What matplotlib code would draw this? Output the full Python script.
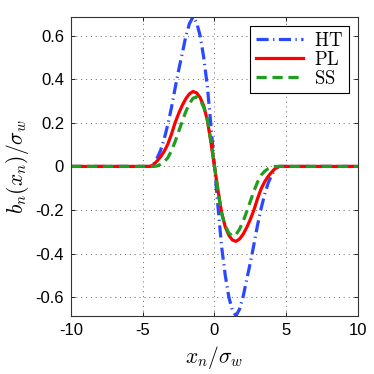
import matplotlib
matplotlib.use('Agg')
import matplotlib.pyplot as plt

plt.rcParams['font.family'] = ['Liberation Sans', 'DejaVu Sans']
plt.rcParams['mathtext.fontset'] = 'cm'

# values (x_n / sigma_w)
x = [-10, -4.5, -4.25, -4.0, -3.75, -3.5, -3.25, -3.0, -2.75, -2.5, -2.25, -2.0,
     -1.75, -1.5, -1.25, -1.0, -0.75, -0.5, -0.25, 0.0,
     0.25, 0.5, 0.75, 1.0, 1.25, 1.5, 1.75, 2.0, 2.25, 2.5, 2.75, 3.0,
     3.25, 3.5, 3.75, 4.0, 4.25, 4.5, 10]

ht = [0.0, 0.0, 0.010, 0.038, 0.075, 0.128, 0.193, 0.270, 0.358, 0.442, 0.518, 0.597,
      0.655, 0.686, 0.662, 0.600, 0.500, 0.370, 0.190, 0.0,
      -0.190, -0.370, -0.500, -0.600, -0.662, -0.686, -0.655, -0.597, -0.518, -0.442, -0.358, -0.270,
      -0.193, -0.128, -0.075, -0.038, -0.010, 0.0, 0.0]

pl = [0.0, 0.0, 0.008, 0.025, 0.045, 0.070, 0.103, 0.148, 0.200, 0.243, 0.280, 0.311,
      0.333, 0.344, 0.338, 0.316, 0.278, 0.212, 0.112, 0.0,
      -0.112, -0.212, -0.278, -0.316, -0.338, -0.344, -0.333, -0.311, -0.280, -0.243, -0.200, -0.148,
      -0.103, -0.070, -0.045, -0.025, -0.008, 0.0, 0.0]

ss = [0.0, 0.0, 0.0, 0.002, 0.010, 0.022, 0.040, 0.072, 0.113, 0.160, 0.207, 0.252,
      0.288, 0.313, 0.320, 0.306, 0.272, 0.218, 0.118, 0.0,
      -0.118, -0.218, -0.272, -0.306, -0.320, -0.313, -0.288, -0.252, -0.207, -0.160, -0.113, -0.072,
      -0.040, -0.022, -0.010, -0.002, 0.0, 0.0, 0.0]

fig = plt.figure(figsize=(3.74, 3.74), dpi=100)
ax = fig.add_axes([0.19, 0.155, 0.767, 0.80])

ax.plot(x, ht, color='#2a48ff', lw=2.3, dashes=(3.8, 1.4, 0.4, 1.4), label=r'$\mathrm{HT}$')
ax.plot(x, pl, color='#ff0000', lw=2.3, label=r'$\mathrm{PL}$')
ax.plot(x, ss, color='#1f9f1f', lw=2.3, dashes=(3.2, 1.8), label=r'$\mathrm{SS}$')

ax.set_xlim(-10, 10)
ax.set_ylim(-0.687, 0.687)
ax.set_xticks([-10, -5, 0, 5, 10])
ax.set_yticks([-0.6, -0.4, -0.2, 0, 0.2, 0.4, 0.6])
ax.set_xticklabels(['-10', '-5', '0', '5', '10'])
ax.set_yticklabels(['-0.6', '-0.4', '-0.2', '0', '0.2', '0.4', '0.6'])
ax.tick_params(direction='in', top=True, right=True, labelsize=12, length=3, width=0.6, pad=5)
ax.grid(True, color='#666666', lw=0.7, dashes=(1, 4))
for s in ax.spines.values():
    s.set_linewidth(0.8)
    s.set_color('#333333')

ax.set_xlabel(r'$x_n/\sigma_w$', fontsize=15.5, labelpad=4)
ax.set_ylabel(r'$b_n(x_n)/\sigma_w$', fontsize=15.5, labelpad=3)

leg = ax.legend(loc='upper right', fontsize=13.5, handlelength=2.5, borderaxespad=0.5,
                fancybox=False, framealpha=1, edgecolor='black', borderpad=0.3,
                labelspacing=0.05, handletextpad=0.6)
leg.get_frame().set_linewidth(0.8)

fig.savefig('out.png', dpi=100)
